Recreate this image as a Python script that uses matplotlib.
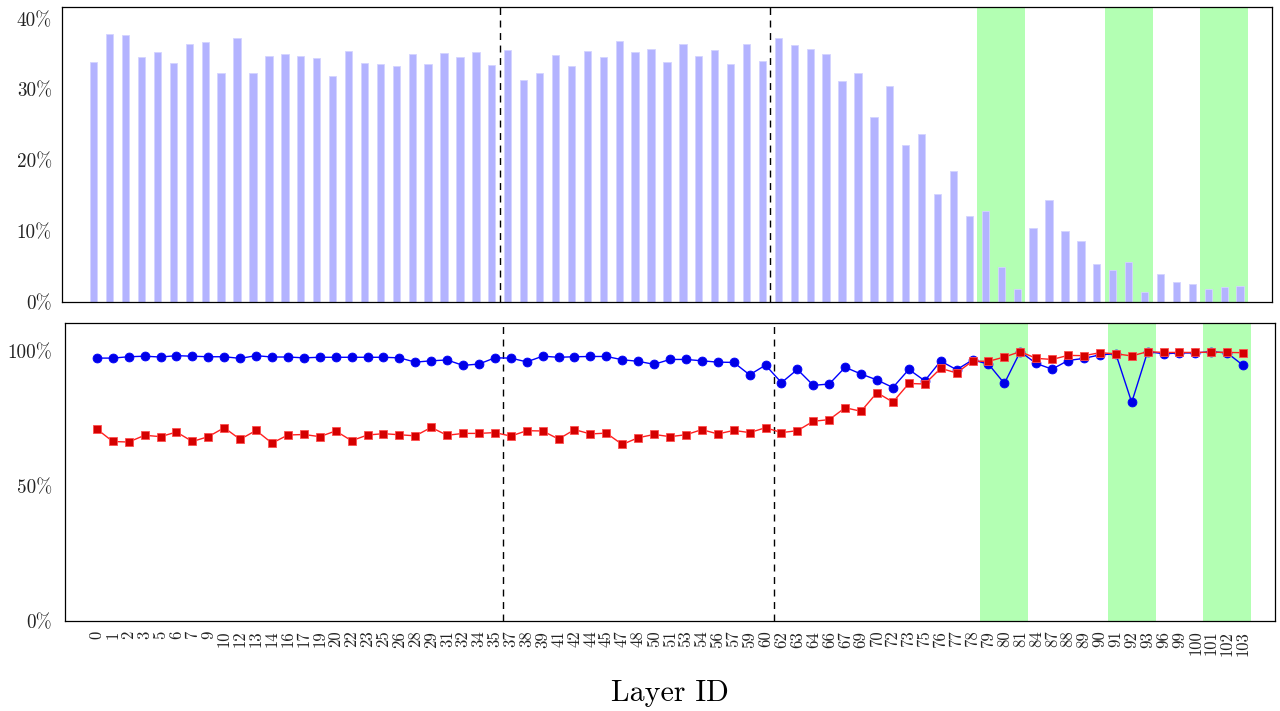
import matplotlib
matplotlib.use("Agg")
import matplotlib.pyplot as plt
from matplotlib.ticker import FuncFormatter

plt.rcParams['font.family'] = 'cmr10'
plt.rcParams['mathtext.fontset'] = 'cm'
plt.rcParams['axes.formatter.use_mathtext'] = True

layers = ['0', '1', '2', '3', '5', '6', '7', '9', '10', '12', '13', '14', '16', '17',
          '19', '20', '22', '23', '25', '26', '28', '29', '31', '32', '34', '35', '37',
          '38', '39', '41', '42', '44', '45', '47', '48', '50', '51', '53', '54', '56',
          '57', '59', '60', '62', '63', '64', '66', '67', '69', '70', '72', '73', '75',
          '76', '77', '78', '79', '80', '81', '84', '87', '88', '89', '90', '91', '92',
          '93', '96', '99', '100', '101', '102', '103']

# top panel: bar heights (%)
bar_vals = [33.9, 37.9, 37.8, 34.6, 35.3, 33.8, 36.5, 36.7, 32.3, 37.3, 32.4, 34.7, 35.1, 34.7,
            34.5, 32.0, 35.5, 33.8, 33.7, 33.3, 35.0, 33.6, 35.2, 34.6, 35.4, 33.5, 35.6,
            31.4, 32.3, 34.9, 33.3, 35.5, 34.6, 36.9, 35.4, 35.7, 33.9, 36.4, 34.8, 35.6,
            33.6, 36.5, 34.0, 37.3, 36.3, 35.8, 35.0, 31.2, 32.4, 26.2, 30.5, 22.2, 23.7,
            15.2, 18.5, 12.1, 12.9, 4.9, 1.8, 10.4, 14.4, 10.0, 8.6, 5.4, 4.5, 5.6,
            1.4, 4.0, 2.9, 2.6, 1.9, 2.1, 2.3]

# bottom panel: two series (%)
blue_vals = [97.4, 97.4, 97.9, 98.1, 97.8, 98.3, 98.1, 97.9, 97.9, 97.3, 98.3, 97.8, 97.8, 97.5,
             97.7, 97.7, 97.7, 97.7, 97.7, 97.5, 95.9, 96.4, 96.7, 94.7, 95.2, 97.5, 97.4,
             96.0, 98.1, 97.7, 97.9, 98.0, 98.0, 96.8, 96.2, 95.1, 96.9, 96.9, 96.4, 95.9,
             95.8, 91.2, 94.8, 88.3, 93.2, 87.3, 87.8, 94.0, 91.5, 89.3, 86.5, 93.2, 89.0,
             96.3, 93.1, 96.7, 95.2, 88.0, 99.8, 95.4, 93.3, 96.5, 97.3, 98.6, 99.0, 81.0,
             99.8, 99.0, 99.3, 99.3, 99.8, 99.3, 94.7]
red_vals = [71.1, 66.5, 66.3, 68.8, 68.3, 70.0, 66.5, 68.3, 71.6, 67.3, 70.6, 65.9, 68.9, 69.1,
            68.3, 70.4, 66.8, 68.9, 69.4, 69.0, 68.6, 71.7, 68.8, 69.5, 69.5, 69.8, 68.5,
            70.5, 70.4, 67.4, 70.9, 69.3, 69.6, 65.4, 67.9, 69.1, 68.3, 69.0, 70.9, 69.3,
            70.6, 69.8, 71.6, 69.8, 70.5, 74.0, 74.6, 79.0, 77.7, 84.6, 81.1, 88.0, 87.8,
            93.6, 91.9, 96.3, 96.2, 97.8, 99.8, 97.3, 96.9, 98.4, 98.3, 99.4, 99.0, 98.2,
            99.8, 99.5, 99.5, 99.5, 99.6, 99.5, 99.4]

# separators and highlighted layer groups
dashed_after = ['35', '60']
highlight_groups = [['79', '80', '81'], ['91', '92', '93'], ['101', '102', '103']]

x = list(range(len(layers)))
pct = FuncFormatter(lambda v, p: f'{v:.0f}%')

fig = plt.figure(figsize=(12.8, 7.11), dpi=100)
ax1 = fig.add_axes([0.0484, 0.5752, 0.9453, 0.4150])
ax2 = fig.add_axes([0.0508, 0.1266, 0.9453, 0.4191])


def decorate(ax, ypad):
    for grp in highlight_groups:
        i0 = layers.index(grp[0])
        i1 = layers.index(grp[-1])
        ax.axvspan(i0 - 0.5, i1 + 0.5, color='#b3ffb3', lw=0, zorder=0)
    for lab in dashed_after:
        ax.axvline(layers.index(lab) + 0.5, color='black', ls=(0, (5, 4)), lw=1.0, zorder=1)
    ax.set_xlim(-2, 74)
    ax.tick_params(length=0)
    ax.tick_params(axis='y', labelsize=13.8, pad=ypad, labelcolor='#222222')
    for s in ax.spines.values():
        s.set_linewidth(0.9)


decorate(ax1, 7.2)
ax1.bar(x, bar_vals, width=0.46, color='#b3b3ff', edgecolor='#d4d4ff', linewidth=0.6, zorder=2)
ax1.set_ylim(0, 41.7)
ax1.set_yticks([0, 10, 20, 30, 40])
ax1.yaxis.set_major_formatter(pct)
ax1.set_xticks([])

decorate(ax2, 9.4)
ax2.plot(x, blue_vals, color='#0000ff', lw=1.0, marker='o', markersize=6.4,
         markerfacecolor='#0000e6', markeredgecolor='#0000ff', markeredgewidth=0.6, zorder=3)
ax2.plot(x, red_vals, color='#ff2020', lw=1.0, marker='s', markersize=6.4,
         markerfacecolor='#d40000', markeredgecolor='#ff4d4d', markeredgewidth=0.6, zorder=4)
ax2.set_ylim(0, 110.4)
ax2.set_yticks([0, 50, 100])
ax2.yaxis.set_major_formatter(pct)
ax2.set_xticks(x)
ax2.set_xticklabels(layers, rotation=90, fontsize=12, color='#222222')
ax2.tick_params(axis='x', pad=7)
ax2.set_xlabel('Layer ID', fontsize=21.5, labelpad=17)

fig.savefig('out.png', dpi=100)
